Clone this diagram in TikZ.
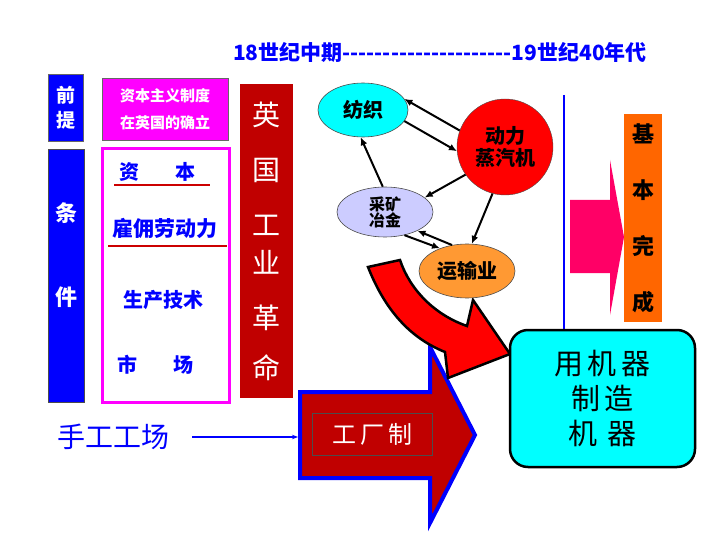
\documentclass[tikz,border=0pt]{standalone}
\usepackage{fontspec}
\setmainfont{Noto Sans CJK SC}
\newfontfamily\cjk{Noto Sans CJK SC}
\usetikzlibrary{shapes.geometric,arrows.meta}
\definecolor{dred}{HTML}{C00000}
\definecolor{mag}{HTML}{FF00FF}
\definecolor{cyn}{HTML}{00FFFF}
\definecolor{lav}{HTML}{CCCCFF}
\definecolor{org}{HTML}{FF9933}
\definecolor{dorg}{HTML}{FF6600}
\definecolor{pk}{HTML}{FF0066}
\definecolor{rd}{HTML}{FF0000}
\definecolor{bl}{HTML}{0000FF}
\newcommand{\fs}[1]{\fontsize{#1}{#1}\selectfont}
\begin{document}
\begin{tikzpicture}[x=1pt,y=-1pt,
  arr/.style={-{Latex[length=8pt,width=7pt]},line width=2pt},
  ell/.style={ellipse,draw=black!70,line width=0.6pt,inner sep=0pt}]
\useasboundingbox (0,0) rectangle (720,540);
\node[text=bl,font=\cjk\bfseries\fs{21}] (title) at (440,52) {18世纪中期---------------------19世纪40年代};
% left boxes
\node[fill=bl,draw=black!60,minimum width=35pt,minimum height=67pt,text=white,font=\cjk\bfseries\fs{19},align=center] (qt) at (65.5,107.5) {前\\[6pt]提};
\node[fill=bl,draw=black!70,line width=1pt,minimum width=36pt,minimum height=252pt] (tj) at (66,276) {};
\node[text=white,font=\cjk\bfseries\fs{22}] (tj1) at (66,213) {条};
\node[text=white,font=\cjk\bfseries\fs{22}] (tj2) at (66,297) {件};
\node[fill=mag,draw=black!60,minimum width=126pt,minimum height=62pt,text=white,font=\cjk\bfseries\fs{15},align=center] (zb) at (165,109) {资本主义制度\\[12pt]在英国的确立};
\draw[mag,line width=3pt] (102,149) rectangle (229,402);
\node[text=bl,font=\cjk\bfseries\fs{20}] (c1) at (157,172) {资\hspace{36pt}本};
\draw[rd!80!black,line width=2.5pt] (114,185) -- (210,185);
\node[text=bl,font=\cjk\bfseries\fs{21}] (c2) at (165,228) {雇佣劳动力};
\draw[rd!80!black,line width=2.5pt] (108,246) -- (227,246);
\node[text=bl,font=\cjk\bfseries\fs{20}] (c3) at (163,300) {生产技术};
\node[text=bl,font=\cjk\bfseries\fs{20}] (c4) at (155,365) {市\hspace{36pt}场};
\node[fill=dred,minimum width=53pt,minimum height=314pt,text=white,font=\cjk\fs{28},align=center] (yg) at (266.5,241) {英\\[27pt]国\\[27pt]工\\[10pt]业\\[27pt]革\\[22pt]命};
% bottom
\node[text=bl,font=\cjk\fs{28}] (sg) at (113,437) {手工工场};
\draw[draw=bl,line width=4pt,fill=dred] (300,392) -- (430,392) -- (430,347) -- (475,435) -- (430,523) -- (430,478) -- (300,478) -- cycle;
\node[draw=black!70,line width=0.8pt,minimum width=120pt,minimum height=42pt,text=white,font=\cjk\fs{24},anchor=west] (gc) at (312,434) {工\,厂\,制};
\draw[bl,line width=1.5pt,-{Stealth[length=6pt]}] (192,437) -- (298,437);
% curved red arrow
\draw[fill=rd,draw=black,line width=2.5pt] (368,267) .. controls (385,310) and (410,338) .. (445,352) -- (448,378) -- (510,354) -- (473,300) -- (467,326) .. controls (435,315) and (410,290) .. (400,260) -- cycle;
% ellipses
\node[ell,fill=cyn,minimum width=90pt,minimum height=54pt,font=\cjk\bfseries\fs{20}] (fz) at (363,110) {纺织};
\node[circle,draw=black!70,fill=rd,minimum size=96pt,font=\cjk\bfseries\fs{20},align=center,inner sep=0pt] (dl) at (505,147) {动力\\[2pt]蒸汽机};
\node[ell,fill=lav,minimum width=96pt,minimum height=50pt,font=\cjk\bfseries\fs{16},align=center] (ck) at (385,212) {采矿\\冶金};
\node[ell,fill=org,minimum width=96pt,minimum height=54pt,font=\cjk\bfseries\fs{20}] (ys) at (467,271) {运输业};
\draw[arr] (dl.160) -- (fz.15);
\draw[arr] (fz.-15) -- (dl.185);
\draw[arr] (ck.95) -- (fz.-95);
\draw[arr] (dl.215) -- (ck.20);
\draw[arr] (dl.255) -- (ys.80);
\draw[arr] (ck.-50) -- (ys.140);
\draw[arr] (ys.120) -- (ck.-30);
% right
\draw[bl,line width=1.2pt] (564,95) -- (564,330);
\draw[fill=pk,draw=none] (570,200) -- (610,200) -- (610,160) -- (624,237) -- (610,315) -- (610,273) -- (570,273) -- cycle;
\node[fill=dorg,minimum width=38pt,minimum height=208pt,font=\cjk\bfseries\fs{22},align=center] (jb) at (643,218) {基\\[34pt]本\\[34pt]完\\[34pt]成};
\node[draw=black,line width=2.5pt,rounded corners=18pt,fill=cyn,minimum width=185pt,minimum height=137pt,font=\cjk\fs{29},align=center] (yj) at (602.5,398.5) {用\,机\,器\\[6pt]制\,造\hspace{10pt}\\[6pt]机\,\,器\hspace{14pt}};
\end{tikzpicture}
\end{document}
